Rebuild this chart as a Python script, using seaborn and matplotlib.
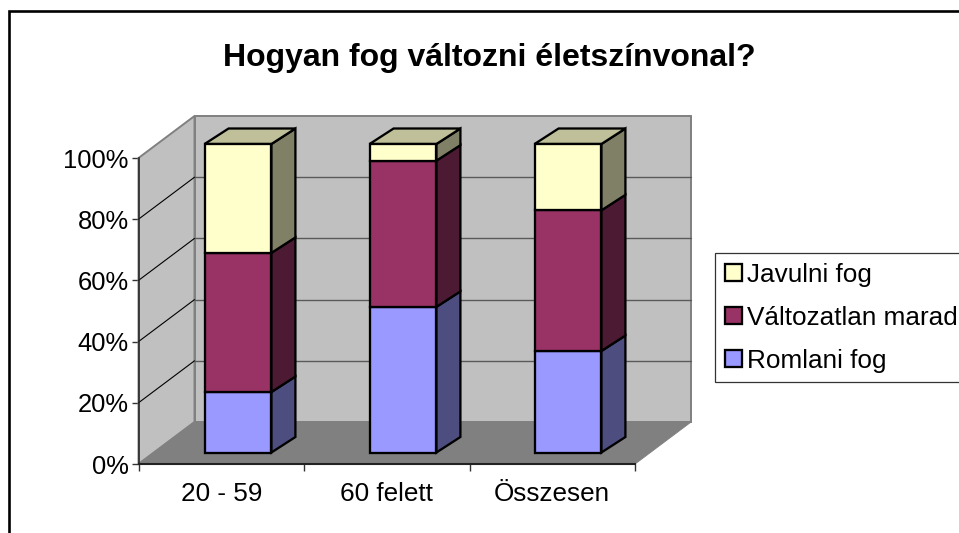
# Required libraries
import pandas as pd
import matplotlib
matplotlib.use('Agg')
import matplotlib.pyplot as plt
from matplotlib.patches import Patch, Rectangle
import seaborn as sns

# Data
categories = ['20 - 59', '60 felett', 'Összesen']
romlani = [19.6, 47.2, 32.9]
valtozatlan = [45.1, 47.4, 45.6]
javulni = [35.3, 5.4, 21.5]
y_ticks = [0, 20, 40, 60, 80, 100]
y_labels = ['0%', '20%', '40%', '60%', '80%', '100%']
title = 'Hogyan fog változni életszínvonal?'

# Colours: front, side and top face
c_rom = ('#9999FF', '#4D4D80')
c_val = ('#993366', '#4D1A33')
c_jav = ('#FFFFCC', '#808066')
c_top = '#BFBF99'

W, H = 959, 533
sns.set_style('white')
plt.rcParams['font.family'] = ['Liberation Sans', 'DejaVu Sans']

fig = plt.figure(figsize=(W / 100, H / 100), dpi=100)

# Outer frame, cut by the right and bottom edge of the picture
fig.add_artist(Rectangle((8.5 / W, -0.1), 1.1, 1.1 - 11 / H, transform=fig.transFigure,
                         facecolor='none', edgecolor='black', linewidth=1.9))


def px_axes(left, top, right, bottom):
    return fig.add_axes([left / W, 1 - bottom / H, (right - left) / W, (bottom - top) / H])


# Front plane of the box: holds the real axis, walls and floor
ax = px_axes(138.5, 158, 635, 464)
ax.patch.set_visible(False)
ax.set_xlim(-0.5, 2.5)
ax.set_ylim(0, 100)
dx = 56 / (496.5 / 3)
dy = 42 / 3.06

wall_x = [-0.5 + dx, 2.5 + dx, 2.5 + dx, -0.5 + dx]
wall_y = [dy, dy, 100 + dy, 100 + dy]
ax.fill(wall_x, wall_y, facecolor='#C0C0C0', edgecolor='#808080', linewidth=1.4, clip_on=False, zorder=1)
ax.fill([-0.5, -0.5 + dx, -0.5 + dx, -0.5], [0, dy, 100 + dy, 100], facecolor='#C0C0C0',
        edgecolor='#808080', linewidth=1.4, clip_on=False, zorder=1)
ax.fill([-0.5, 2.5, 2.5 + dx, -0.5 + dx], [0, 0, dy, dy], facecolor='#808080',
        edgecolor='#808080', linewidth=0.7, clip_on=False, zorder=1.5)

for t in y_ticks[1:-1]:
    ax.plot([-0.5 + dx, 2.5 + dx], [t + dy, t + dy], color='#5A5A5A', linewidth=1.0, clip_on=False, zorder=1.2)
    ax.plot([-0.5, -0.5 + dx], [t, t + dy], color='black', linewidth=0.8, clip_on=False, zorder=1.2)

ax.set_xticks(range(len(categories)))
ax.set_xticklabels(categories, fontsize=18.8, color='black')
ax.set_xticks([-0.5, 0.5, 1.5, 2.5], minor=True)
ax.set_yticks(y_ticks)
ax.set_yticklabels(y_labels, fontsize=18.4, color='black')
ax.tick_params(axis='x', which='major', length=0, pad=13)
ax.tick_params(axis='x', which='minor', length=5, width=1, color='#333333', bottom=True)
ax.tick_params(axis='y', length=5, width=1, color='#333333', pad=2, left=True)
sns.despine(ax=ax)
ax.spines['left'].set_color('#222222')
ax.spines['bottom'].set_color('#222222')
ax.spines['left'].set_linewidth(1.1)
ax.spines['bottom'].set_linewidth(1.5)
ax.spines['left'].set_zorder(3)
ax.spines['bottom'].set_zorder(3)
ax.grid(False)

# Plane of the bar fronts, sits a bit deeper in the box
bar_ax = px_axes(155.5, 144, 650.5, 452.5)
bar_ax.patch.set_visible(False)
bar_w = 0.405
bx = 24 / 165
by = 15.5 / 3.085
edge = 1.65

df = pd.DataFrame({'cat': categories, 'rom': romlani, 'val': valtozatlan, 'jav': javulni})
bottom = [0, 0, 0]
for col, colors in [('rom', c_rom), ('val', c_val), ('jav', c_jav)]:
    # side faces first so the front outline stays on top
    for i, (b, v) in enumerate(zip(bottom, df[col])):
        xr = i + bar_w / 2
        bar_ax.fill([xr, xr + bx, xr + bx, xr], [b, b + by, b + v + by, b + v], facecolor=colors[1],
                    edgecolor='black', linewidth=edge, clip_on=False, zorder=2, joinstyle='miter')
    sns.barplot(data=df, x='cat', y=col, ax=bar_ax, color=colors[0], saturation=1, width=bar_w,
                bottom=bottom, edgecolor='black', linewidth=edge, clip_on=False, zorder=3)
    bottom = [b + v for b, v in zip(bottom, df[col])]

for i, top in enumerate(bottom):
    xl, xr = i - bar_w / 2, i + bar_w / 2
    bar_ax.fill([xl, xr, xr + bx, xl + bx], [top, top, top + by, top + by], facecolor=c_top,
                edgecolor='black', linewidth=edge, clip_on=False, zorder=2.5, joinstyle='miter')

bar_ax.set_xlim(-0.5, 2.5)
bar_ax.set_ylim(0, 100)
bar_ax.set_axis_off()

# Legend runs past the right edge like in the original
handles = [Patch(facecolor=c_jav[0], edgecolor='black', linewidth=edge, label='Javulni fog'),
           Patch(facecolor=c_val[0], edgecolor='black', linewidth=edge, label='Változatlan marad'),
           Patch(facecolor=c_rom[0], edgecolor='black', linewidth=edge, label='Romlani fog')]
leg = bar_ax.legend(handles=handles, loc='upper left', bbox_to_anchor=(715 / W, 1 - 253 / H),
                    bbox_transform=fig.transFigure, borderaxespad=0, fontsize=18.8, fancybox=False,
                    framealpha=1, edgecolor='#333333', handlelength=0.64, handleheight=0.64,
                    handletextpad=0.22, labelspacing=0.72, borderpad=0.38, labelcolor='black')
leg.get_frame().set_linewidth(0.9)

fig.text(489.5 / W, 1 - 58 / H, title, fontsize=23, fontweight='bold', ha='center', va='center', color='black')

fig.savefig('out.png', dpi=100, facecolor='white')
